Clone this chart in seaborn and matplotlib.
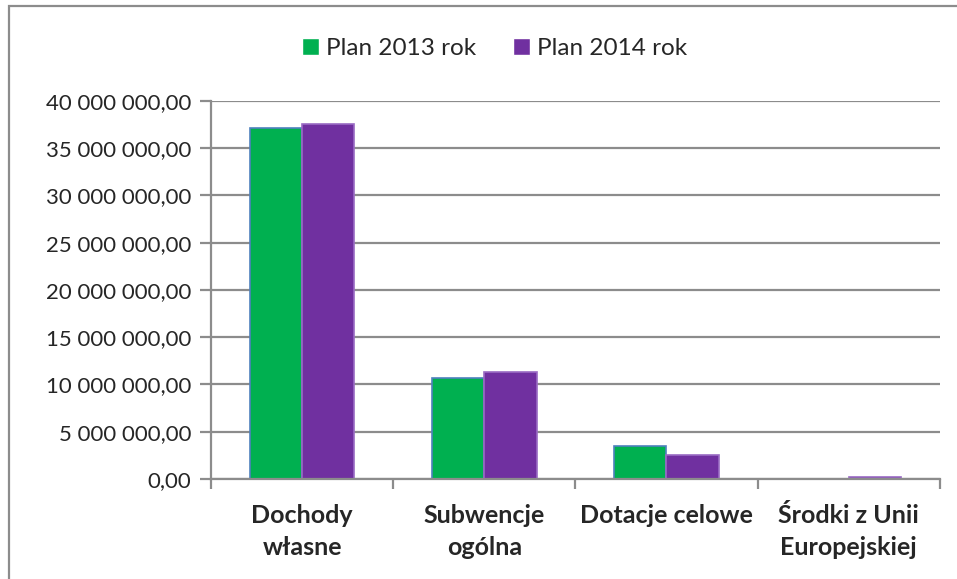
import numpy as np
import pandas as pd
import matplotlib
matplotlib.use('Agg')
import matplotlib.pyplot as plt
from matplotlib.ticker import FuncFormatter, FixedLocator
from matplotlib.patches import Rectangle
import seaborn as sns

categories = ['Dochody\nwłasne', 'Subwencje\nogólna', 'Dotacje celowe', 'Środki z Unii\nEuropejskiej']
series = ['Plan 2013 rok', 'Plan 2014 rok']
plan_2013 = [37150000, 10700000, 3480000, 0]
plan_2014 = [37600000, 11320000, 2540000, 210000]
colors = ['#00B050', '#7030A0']
edges = ['#4F81BD', '#9A6BC4']


def fmt_pl(v, pos):
    s = f'{v:,.2f}'
    return s.replace(',', ' ').replace('.', ',')


def main():
    sns.set_style('white')
    plt.rcParams['font.family'] = ['Lato', 'DejaVu Sans']

    df = pd.DataFrame({
        'kategoria': categories * 2,
        'plan': [series[0]] * 4 + [series[1]] * 4,
        'wartosc': plan_2013 + plan_2014,
    })

    fig = plt.figure(figsize=(9.57, 5.79), dpi=100)
    ax = fig.add_axes([0.2205, 0.1727, 0.982 - 0.2205, 0.8256 - 0.1727])

    sns.barplot(data=df, x='kategoria', y='wartosc', hue='plan', palette=colors,
                width=0.575, saturation=1, ax=ax, legend=True)
    for cont, ec in zip(ax.containers, edges):
        for p in cont:
            p.set_edgecolor(ec)
            p.set_linewidth(1.2)

    ax.set_ylim(0, 40000000)
    ax.set_xlim(-0.5, 3.5)
    ax.set_yticks(np.arange(0, 40000001, 5000000))
    ax.yaxis.set_major_formatter(FuncFormatter(fmt_pl))
    ax.grid(axis='y', color='#8C8C8C', linewidth=1.6)
    ax.set_axisbelow(True)
    for side in ['top', 'right']:
        ax.spines[side].set_visible(False)
    for side in ['left', 'bottom']:
        ax.spines[side].set_color('#8C8C8C')
        ax.spines[side].set_linewidth(1.6)

    ax.set_xlabel('')
    ax.set_ylabel('')
    ax.tick_params(axis='y', which='major', direction='out', length=8, width=1.6,
                   color='#8C8C8C', labelsize=16, pad=6, left=True)
    ax.tick_params(axis='x', which='major', length=0, labelsize=18, pad=18)
    ax.xaxis.set_minor_locator(FixedLocator([-0.5, 0.5, 1.5, 2.5, 3.5]))
    ax.tick_params(axis='x', which='minor', direction='out', length=7, width=1.6,
                   color='#8C8C8C', bottom=True)
    for lbl in ax.get_xticklabels():
        lbl.set_fontweight('bold')
        lbl.set_linespacing(1.45)

    handles, labels = ax.get_legend_handles_labels()
    ax.legend_.remove()
    fig.legend(handles, labels, loc='center', bbox_to_anchor=(0.517, 0.917), ncol=2,
               frameon=False, fontsize=17.5, handlelength=0.7, handleheight=0.7,
               handletextpad=0.3, columnspacing=1.5)

    fig.patches.append(Rectangle((9 / 957, -0.1), 1.0, 1 - 6 / 579 + 0.1,
                                 transform=fig.transFigure, fill=False,
                                 edgecolor='#8C8C8C', linewidth=1.6))

    fig.savefig('out.png', dpi=100)


if __name__ == '__main__':
    main()
